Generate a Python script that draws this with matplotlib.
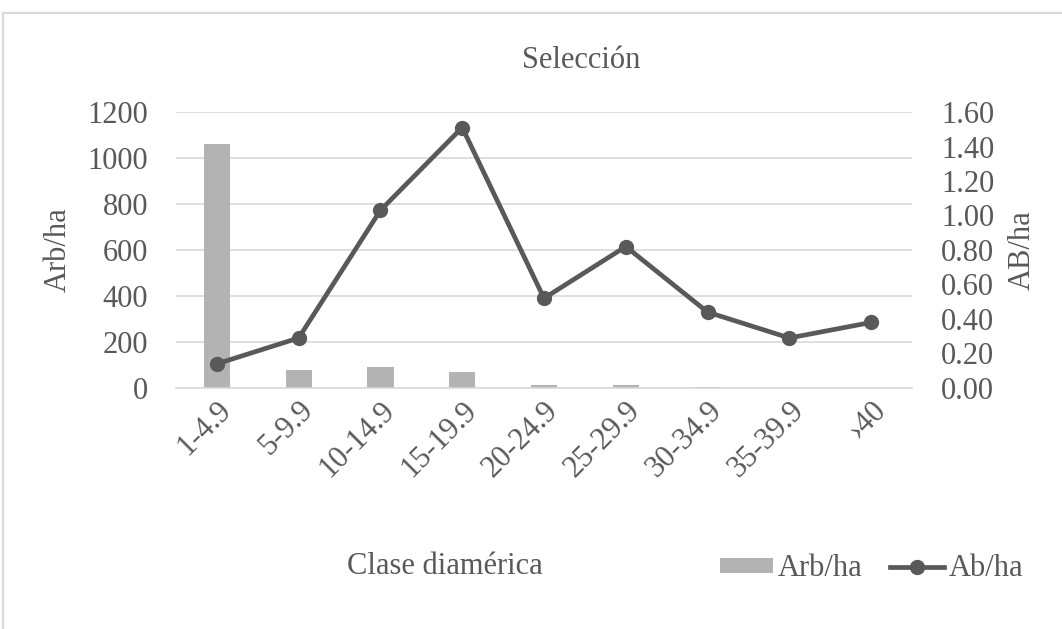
import matplotlib as mpl
import matplotlib.pyplot as plt
from matplotlib.lines import Line2D
from matplotlib.patches import Patch

#%%### Data
clases = ['1-4.9', '5-9.9', '10-14.9', '15-19.9', '20-24.9',
          '25-29.9', '30-34.9', '35-39.9', '›40']
arb_ha = [1060, 78, 92, 70, 15, 14, 5, 2, 2]
ab_ha = [0.14, 0.29, 1.03, 1.51, 0.52, 0.82, 0.44, 0.29, 0.38]

#%%### Style
plt.rcParams['font.family'] = ['Liberation Serif', 'DejaVu Serif']
txt = '#595959'
grid = '#d9d9d9'
fs = 22

#%%### Plot
W, H = 1062, 629
f = plt.figure(figsize=(W/100, H/100), dpi=100)
ax = f.add_axes([176/W, 1-388/H, 736/W, 276/H])
ax2 = ax.twinx()

x = list(range(len(clases)))
ax.bar(x, arb_ha, width=0.32, color='#b3b3b3', zorder=2)
ax2.plot(x, ab_ha, color=txt, lw=3.4, marker='o', ms=10, zorder=3)

ax.set_xlim(-0.5, len(clases)-0.5)
ax.set_ylim(0, 1200)
ax.set_yticks(range(0, 1201, 200))
ax2.set_ylim(0, 1.6)
ax2.set_yticks([i*0.2 for i in range(9)])
ax2.set_yticklabels([f'{i*0.2:.2f}' for i in range(9)])

ax.yaxis.grid(True, color=grid, lw=1.2, zorder=0)
ax.set_axisbelow(True)
for a in (ax, ax2):
    for s in a.spines.values():
        s.set_visible(False)
ax.spines['bottom'].set_visible(True)
ax.spines['bottom'].set_color(grid)
ax.spines['bottom'].set_linewidth(1.2)

ax.tick_params(axis='y', length=0, pad=20, labelsize=fs, labelcolor=txt)
ax2.tick_params(axis='y', length=0, pad=21, labelsize=fs, labelcolor=txt)
ax.set_xticks(x)
ax.set_xticklabels(clases, rotation=45, ha='right', va='center',
                   rotation_mode='anchor')
ax.tick_params(axis='x', length=0, pad=13, labelsize=fs, labelcolor=txt)
## nudge the rotated labels to the right
shift = mpl.transforms.ScaledTranslation(10/100, 0, f.dpi_scale_trans)
for lab in ax.get_xticklabels():
    lab.set_transform(lab.get_transform() + shift)

### Titles
f.text(581/W, 1-60/H, 'Selección', ha='center', va='center', fontsize=fs, color=txt)
f.text(58/W, 1-250/H, 'Arb/ha', ha='center', va='center', rotation=90,
       fontsize=fs, color=txt)
f.text(1022/W, 1-250/H, 'AB/ha', ha='center', va='center', rotation=90,
       fontsize=fs, color=txt)
f.text(445/W, 1-566/H, 'Clase diamérica', ha='center', va='center',
       fontsize=fs, color=txt)

### Legend
handles = [
    Patch(facecolor='#b3b3b3', label='Arb/ha'),
    Line2D([], [], color=txt, lw=3.4, marker='o', ms=10, label='Ab/ha'),
]
f.legend(handles=handles, loc='center left', bbox_to_anchor=(720/W, 1-569/H),
         ncol=2, frameon=False, fontsize=fs, labelcolor=txt,
         handlelength=1.75, handleheight=0.4, handletextpad=0.15,
         columnspacing=0.9, borderpad=0, borderaxespad=0)

### Chart border
f.add_artist(Line2D([3/W, 3/W], [0, 1-13/H], color=grid, lw=1.5, transform=f.transFigure))
f.add_artist(Line2D([3/W, 1], [1-13/H, 1-13/H], color=grid, lw=1.5, transform=f.transFigure))

plt.savefig('out.png', dpi=100)
